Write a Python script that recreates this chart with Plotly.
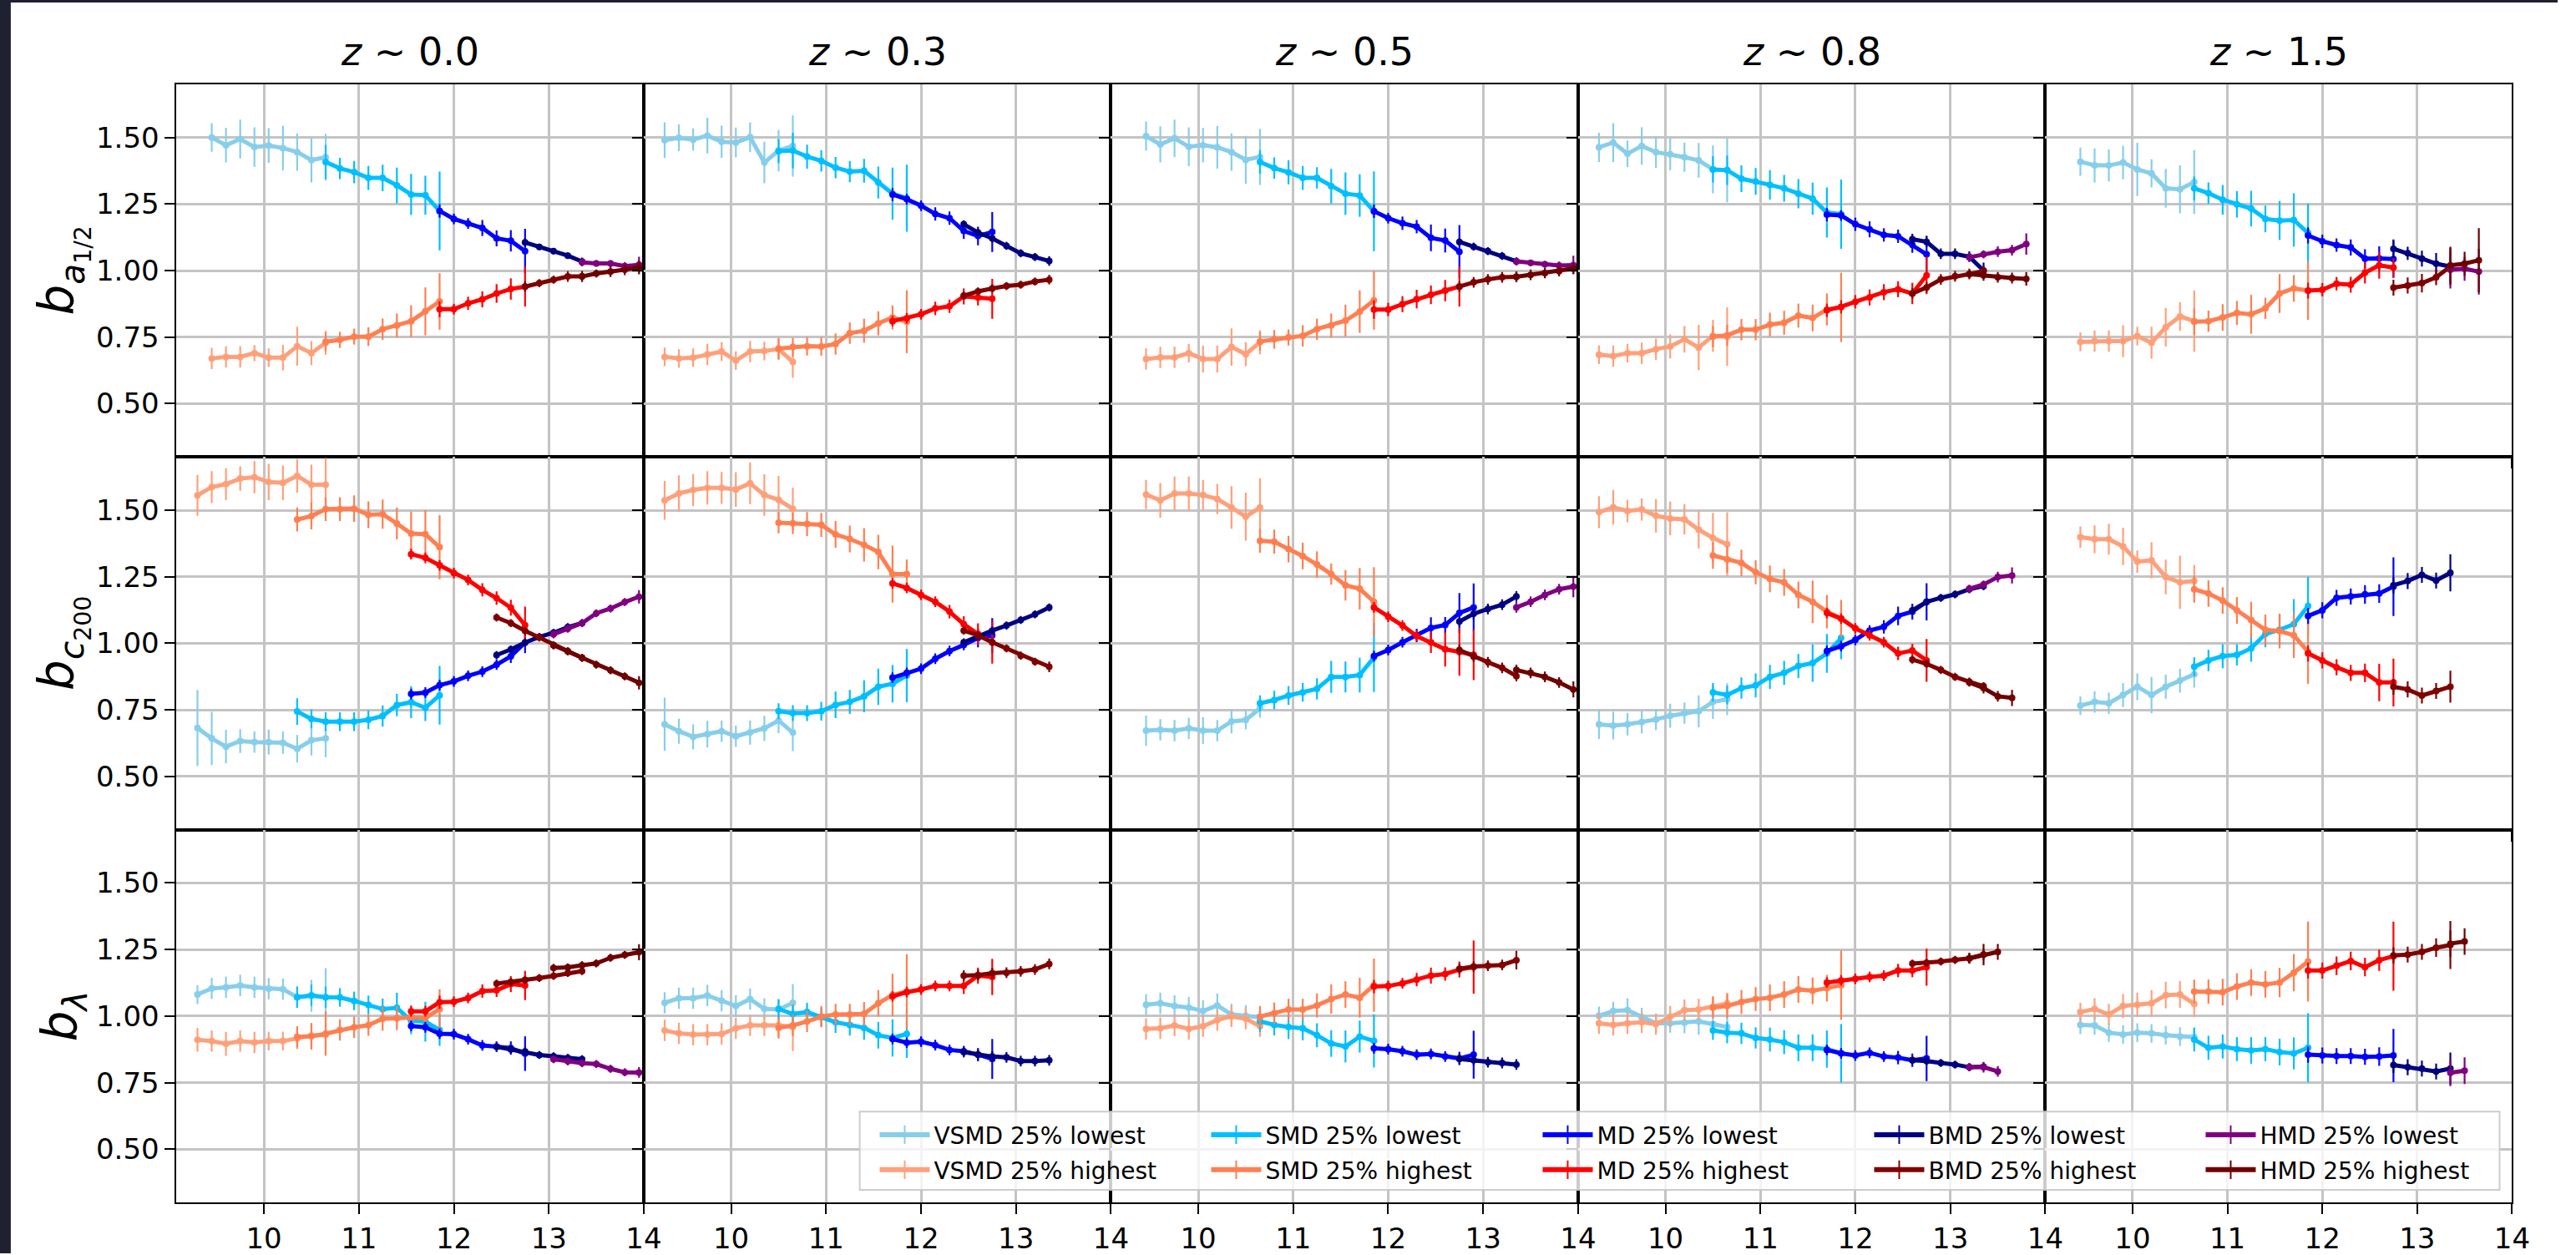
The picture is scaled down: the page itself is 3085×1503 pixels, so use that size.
import plotly.graph_objects as go

W, H = 3085, 1503

# Halo-mass bin centres, log10(M / Msun)
MASS_BINS = [9.30, 9.45, 9.60, 9.75, 9.90, 10.05, 10.20, 10.35, 10.50, 10.65,
             10.80, 10.95, 11.10, 11.25, 11.40, 11.55, 11.70, 11.85, 12.00, 12.15,
             12.30, 12.45, 12.60, 12.75, 12.90, 13.05, 13.20, 13.35, 13.50, 13.65,
             13.80, 13.95]

REDSHIFTS = ["0.0", "0.3", "0.5", "0.8", "1.5"]
ROW_LABELS = ["<i>b</i><sub><i>a</i><sub>1/2</sub></sub>",
              "<i>b</i><sub><i>c</i><sub>200</sub></sub>",
              "<i>b</i><sub><i>λ</i></sub>"]
X_TICKS = [10, 11, 12, 13, 14]
Y_TICKS = [0.50, 0.75, 1.00, 1.25, 1.50]
Y_TICK_TEXT = ["0.50", "0.75", "1.00", "1.25", "1.50"]

SERIES = ["VSMD 25% lowest", "VSMD 25% highest", "SMD 25% lowest", "SMD 25% highest",
          "MD 25% lowest", "MD 25% highest", "BMD 25% lowest", "BMD 25% highest",
          "HMD 25% lowest", "HMD 25% highest"]
COLORS = {
    "VSMD 25% lowest": "#87ceeb", "VSMD 25% highest": "#ffa07a",
    "SMD 25% lowest": "#00bfff", "SMD 25% highest": "#ff7f50",
    "MD 25% lowest": "#0000ff", "MD 25% highest": "#ff0000",
    "BMD 25% lowest": "#000080", "BMD 25% highest": "#800000",
    "HMD 25% lowest": "#800080", "HMD 25% highest": "#6e0000",
}

# Each entry: (first mass bin, bias values, 1-sigma errors)
# ---------------- b_{a1/2} ----------------
A_Z00 = {
    "VSMD 25% lowest": (9.45, [1.500, 1.471, 1.494, 1.464, 1.470, 1.460, 1.445, 1.415, 1.426],
                        [0.054, 0.065, 0.073, 0.074, 0.065, 0.084, 0.070, 0.084, 0.088]),
    "VSMD 25% highest": (9.45, [0.670, 0.676, 0.676, 0.690, 0.673, 0.673, 0.716, 0.690, 0.729],
                         [0.040, 0.040, 0.040, 0.030, 0.035, 0.048, 0.073, 0.045, 0.045]),
    "SMD 25% lowest": (10.65, [1.408, 1.384, 1.370, 1.348, 1.348, 1.320, 1.286, 1.283, 1.224],
                       [0.064, 0.040, 0.042, 0.045, 0.050, 0.067, 0.077, 0.073, 0.148]),
    "SMD 25% highest": (10.65, [0.733, 0.740, 0.752, 0.752, 0.780, 0.794, 0.810, 0.847, 0.884],
                        [0.035, 0.030, 0.030, 0.035, 0.040, 0.045, 0.060, 0.090, 0.106]),
    "MD 25% lowest": (11.85, [1.224, 1.194, 1.177, 1.160, 1.121, 1.112, 1.073],
                      [0.025, 0.020, 0.020, 0.030, 0.030, 0.040, 0.084]),
    "MD 25% highest": (11.85, [0.855, 0.855, 0.877, 0.892, 0.914, 0.931, 0.940],
                       [0.030, 0.020, 0.025, 0.030, 0.035, 0.040, 0.075]),
    "BMD 25% lowest": (12.75, [1.106, 1.089, 1.073, 1.056, 1.034],
                       [0.015, 0.012, 0.012, 0.012, 0.015]),
    "BMD 25% highest": (12.75, [0.940, 0.953, 0.966, 0.978, 0.978],
                        [0.020, 0.015, 0.015, 0.020, 0.020]),
    "HMD 25% lowest": (13.35, [1.031, 1.027, 1.027, 1.017, 1.022],
                       [0.015, 0.012, 0.012, 0.015, 0.030]),
    "HMD 25% highest": (13.35, [0.978, 0.989, 0.996, 1.003, 1.011],
                        [0.020, 0.015, 0.020, 0.020, 0.025]),
}
A_Z03 = {
    "VSMD 25% lowest": (9.30, [1.490, 1.499, 1.492, 1.507, 1.484, 1.481, 1.501, 1.406, 1.451, 1.468],
                        [0.067, 0.050, 0.042, 0.067, 0.060, 0.056, 0.056, 0.078, 0.078, 0.115]),
    "VSMD 25% highest": (9.30, [0.676, 0.670, 0.673, 0.685, 0.696, 0.662, 0.696, 0.698, 0.705, 0.657],
                         [0.035, 0.035, 0.035, 0.040, 0.035, 0.035, 0.040, 0.035, 0.040, 0.060]),
    "SMD 25% lowest": (10.50, [1.449, 1.451, 1.428, 1.412, 1.387, 1.372, 1.375, 1.331, 1.289, 1.272],
                       [0.045, 0.067, 0.045, 0.040, 0.040, 0.040, 0.045, 0.060, 0.098, 0.126]),
    "SMD 25% highest": (10.50, [0.707, 0.713, 0.716, 0.715, 0.724, 0.765, 0.774, 0.802, 0.824, 0.808],
                        [0.040, 0.035, 0.035, 0.035, 0.040, 0.040, 0.045, 0.045, 0.045, 0.118]),
    "MD 25% lowest": (11.70, [1.286, 1.268, 1.244, 1.213, 1.197, 1.149, 1.130, 1.145],
                      [0.025, 0.020, 0.020, 0.025, 0.025, 0.030, 0.035, 0.075]),
    "MD 25% highest": (11.70, [0.810, 0.821, 0.836, 0.858, 0.866, 0.903, 0.899, 0.894],
                       [0.020, 0.020, 0.020, 0.025, 0.025, 0.030, 0.030, 0.075]),
    "BMD 25% lowest": (12.45, [1.174, 1.143, 1.121, 1.093, 1.065, 1.051, 1.036],
                       [0.015, 0.015, 0.015, 0.015, 0.015, 0.015, 0.018]),
    "BMD 25% highest": (12.45, [0.906, 0.922, 0.933, 0.942, 0.947, 0.959, 0.966],
                        [0.015, 0.015, 0.015, 0.015, 0.015, 0.015, 0.018]),
}
A_Z05 = {
    "VSMD 25% lowest": (9.45, [1.505, 1.474, 1.497, 1.465, 1.471, 1.463, 1.445, 1.416, 1.427],
                        [0.055, 0.068, 0.070, 0.073, 0.065, 0.080, 0.070, 0.090, 0.105]),
    "VSMD 25% highest": (9.45, [0.668, 0.674, 0.674, 0.690, 0.668, 0.668, 0.713, 0.686, 0.731],
                         [0.040, 0.040, 0.040, 0.035, 0.050, 0.050, 0.070, 0.045, 0.045]),
    "SMD 25% lowest": (10.65, [1.408, 1.385, 1.369, 1.348, 1.348, 1.317, 1.289, 1.282, 1.223],
                       [0.045, 0.040, 0.045, 0.045, 0.040, 0.065, 0.080, 0.080, 0.150]),
    "SMD 25% highest": (10.65, [0.734, 0.742, 0.749, 0.755, 0.780, 0.794, 0.812, 0.846, 0.888],
                        [0.035, 0.035, 0.030, 0.040, 0.040, 0.045, 0.060, 0.080, 0.110]),
    "MD 25% lowest": (11.85, [1.223, 1.197, 1.178, 1.165, 1.123, 1.113, 1.071],
                      [0.025, 0.020, 0.025, 0.025, 0.050, 0.045, 0.100]),
    "MD 25% highest": (11.85, [0.854, 0.854, 0.874, 0.893, 0.909, 0.925, 0.940],
                       [0.035, 0.025, 0.030, 0.035, 0.035, 0.040, 0.075]),
    "BMD 25% lowest": (12.75, [1.108, 1.090, 1.073, 1.055, 1.035],
                       [0.015, 0.015, 0.015, 0.015, 0.015]),
    "BMD 25% highest": (12.75, [0.940, 0.956, 0.967, 0.975, 0.977],
                        [0.020, 0.020, 0.020, 0.020, 0.020]),
    "HMD 25% lowest": (13.35, [1.035, 1.029, 1.024, 1.019, 1.021],
                       [0.015, 0.012, 0.012, 0.015, 0.035]),
    "HMD 25% highest": (13.35, [0.977, 0.984, 0.991, 0.998, 1.008],
                        [0.020, 0.020, 0.020, 0.020, 0.020]),
}
A_Z08 = {
    "VSMD 25% lowest": (9.30, [1.463, 1.481, 1.439, 1.468, 1.445, 1.437, 1.426, 1.414, 1.380, 1.377],
                        [0.055, 0.073, 0.050, 0.070, 0.060, 0.060, 0.055, 0.065, 0.090, 0.120]),
    "VSMD 25% highest": (9.30, [0.684, 0.679, 0.690, 0.690, 0.705, 0.715, 0.742, 0.711, 0.755, 0.752],
                         [0.035, 0.040, 0.035, 0.040, 0.040, 0.045, 0.050, 0.085, 0.060, 0.110]),
    "SMD 25% lowest": (10.50, [1.380, 1.377, 1.345, 1.335, 1.322, 1.309, 1.289, 1.270, 1.218, 1.212],
                       [0.050, 0.055, 0.050, 0.050, 0.055, 0.050, 0.055, 0.060, 0.094, 0.130]),
    "SMD 25% highest": (10.50, [0.752, 0.757, 0.778, 0.778, 0.797, 0.804, 0.831, 0.822, 0.854, 0.862],
                        [0.040, 0.040, 0.040, 0.040, 0.045, 0.045, 0.045, 0.050, 0.060, 0.130]),
    "MD 25% lowest": (11.70, [1.210, 1.207, 1.174, 1.155, 1.134, 1.129, 1.097, 1.061],
                      [0.025, 0.020, 0.025, 0.030, 0.025, 0.025, 0.030, 0.070]),
    "MD 25% highest": (11.70, [0.851, 0.864, 0.883, 0.899, 0.919, 0.930, 0.914, 0.982],
                       [0.025, 0.025, 0.025, 0.030, 0.030, 0.030, 0.040, 0.070]),
    "BMD 25% lowest": (12.60, [1.118, 1.108, 1.063, 1.063, 1.052, 1.000],
                       [0.020, 0.020, 0.020, 0.020, 0.020, 0.030]),
    "BMD 25% highest": (12.60, [0.914, 0.937, 0.967, 0.979, 0.987, 0.998],
                        [0.020, 0.020, 0.020, 0.020, 0.020, 0.020]),
    "HMD 25% lowest": (13.20, [1.050, 1.061, 1.071, 1.077, 1.100],
                       [0.015, 0.015, 0.020, 0.020, 0.040]),
    "HMD 25% highest": (13.20, [0.987, 0.982, 0.975, 0.972, 0.969],
                        [0.015, 0.020, 0.020, 0.020, 0.025]),
}
A_Z15 = {
    "VSMD 25% lowest": (9.45, [1.409, 1.395, 1.395, 1.406, 1.380, 1.365, 1.309, 1.305, 1.333],
                        [0.053, 0.064, 0.060, 0.063, 0.100, 0.053, 0.073, 0.090, 0.120]),
    "VSMD 25% highest": (9.45, [0.732, 0.735, 0.735, 0.735, 0.754, 0.729, 0.787, 0.828, 0.810],
                         [0.035, 0.040, 0.040, 0.060, 0.035, 0.060, 0.072, 0.054, 0.115]),
    "SMD 25% lowest": (10.65, [1.309, 1.291, 1.266, 1.249, 1.233, 1.194, 1.188, 1.190, 1.141],
                       [0.045, 0.040, 0.056, 0.050, 0.067, 0.050, 0.073, 0.100, 0.110]),
    "SMD 25% highest": (10.65, [0.808, 0.810, 0.824, 0.841, 0.836, 0.858, 0.914, 0.933, 0.925],
                        [0.050, 0.040, 0.050, 0.045, 0.073, 0.040, 0.073, 0.050, 0.110]),
    "MD 25% lowest": (11.85, [1.132, 1.110, 1.096, 1.087, 1.045, 1.046, 1.043],
                      [0.030, 0.025, 0.025, 0.030, 0.035, 0.045, 0.070]),
    "MD 25% highest": (11.85, [0.925, 0.928, 0.951, 0.947, 0.992, 1.020, 1.011],
                       [0.030, 0.025, 0.025, 0.030, 0.040, 0.050, 0.035]),
    "BMD 25% lowest": (12.75, [1.082, 1.065, 1.045, 1.026, 1.015],
                       [0.035, 0.025, 0.030, 0.040, 0.025]),
    "BMD 25% highest": (12.75, [0.936, 0.944, 0.953, 0.975, 1.015],
                        [0.030, 0.030, 0.035, 0.030, 0.070]),
    "HMD 25% lowest": (13.35, [1.003, 1.007, 0.996], [0.070, 0.045, 0.086]),
    "HMD 25% highest": (13.35, [1.020, 1.026, 1.039], [0.070, 0.045, 0.120]),
}

# ---------------- b_{c200} ----------------
B_Z00 = {
    "VSMD 25% lowest": (9.30, [0.682, 0.643, 0.612, 0.633, 0.629, 0.629, 0.627, 0.604, 0.636, 0.643],
                        [0.143, 0.100, 0.063, 0.045, 0.040, 0.047, 0.042, 0.052, 0.057, 0.070]),
    "VSMD 25% highest": (9.30, [1.556, 1.587, 1.598, 1.619, 1.624, 1.606, 1.603, 1.629, 1.596, 1.596],
                         [0.077, 0.060, 0.060, 0.046, 0.060, 0.068, 0.065, 0.063, 0.075, 0.100]),
    "SMD 25% lowest": (10.35, [0.744, 0.716, 0.706, 0.706, 0.706, 0.713, 0.727, 0.768, 0.779, 0.758, 0.805],
                       [0.050, 0.035, 0.035, 0.035, 0.035, 0.035, 0.040, 0.042, 0.060, 0.050, 0.110]),
    "SMD 25% highest": (10.35, [1.465, 1.478, 1.504, 1.504, 1.506, 1.483, 1.485, 1.450, 1.412, 1.410, 1.361],
                        [0.045, 0.050, 0.045, 0.045, 0.050, 0.050, 0.055, 0.060, 0.083, 0.090, 0.120]),
    "MD 25% lowest": (11.55, [0.810, 0.815, 0.843, 0.857, 0.878, 0.894, 0.920, 0.951, 1.003],
                      [0.020, 0.020, 0.020, 0.020, 0.020, 0.020, 0.020, 0.025, 0.040]),
    "MD 25% highest": (11.55, [1.335, 1.321, 1.293, 1.264, 1.238, 1.201, 1.170, 1.134, 1.068],
                       [0.020, 0.020, 0.020, 0.020, 0.020, 0.025, 0.025, 0.030, 0.070]),
    "BMD 25% lowest": (12.45, [0.956, 0.977, 1.003, 1.024, 1.040, 1.061, 1.076],
                       [0.015, 0.015, 0.015, 0.015, 0.015, 0.015, 0.015]),
    "BMD 25% highest": (12.45, [1.097, 1.076, 1.047, 1.022, 0.993, 0.970, 0.946],
                        [0.015, 0.015, 0.015, 0.015, 0.015, 0.015, 0.015]),
    "HMD 25% lowest": (13.05, [1.034, 1.055, 1.076, 1.113, 1.131, 1.155, 1.175],
                       [0.015, 0.015, 0.015, 0.015, 0.015, 0.015, 0.025]),
    "HMD 25% highest": (13.05, [0.993, 0.970, 0.946, 0.920, 0.899, 0.876, 0.852],
                        [0.015, 0.015, 0.015, 0.015, 0.015, 0.015, 0.025]),
}
B_Z03 = {
    "VSMD 25% lowest": (9.30, [0.696, 0.670, 0.649, 0.659, 0.670, 0.651, 0.665, 0.681, 0.710, 0.665],
                        [0.100, 0.047, 0.047, 0.050, 0.040, 0.040, 0.045, 0.047, 0.047, 0.070]),
    "VSMD 25% highest": (9.30, [1.537, 1.563, 1.576, 1.584, 1.584, 1.578, 1.601, 1.557, 1.539, 1.505],
                         [0.073, 0.068, 0.060, 0.063, 0.060, 0.065, 0.078, 0.078, 0.090, 0.080]),
    "SMD 25% lowest": (10.50, [0.745, 0.738, 0.738, 0.745, 0.769, 0.780, 0.801, 0.837, 0.848, 0.879],
                       [0.030, 0.030, 0.030, 0.035, 0.050, 0.045, 0.060, 0.068, 0.070, 0.100]),
    "SMD 25% highest": (10.50, [1.453, 1.451, 1.448, 1.445, 1.409, 1.392, 1.370, 1.343, 1.260, 1.260],
                        [0.040, 0.040, 0.045, 0.045, 0.050, 0.050, 0.063, 0.065, 0.107, 0.055]),
    "MD 25% lowest": (11.70, [0.871, 0.889, 0.905, 0.942, 0.971, 0.994, 1.020, 1.030],
                      [0.020, 0.020, 0.020, 0.020, 0.020, 0.020, 0.035, 0.065]),
    "MD 25% highest": (11.70, [1.225, 1.208, 1.182, 1.156, 1.119, 1.072, 1.035, 1.004],
                       [0.020, 0.020, 0.020, 0.020, 0.025, 0.030, 0.040, 0.080]),
    "BMD 25% lowest": (12.45, [1.004, 1.027, 1.048, 1.067, 1.088, 1.109, 1.135],
                       [0.015, 0.015, 0.015, 0.015, 0.015, 0.015, 0.015]),
    "BMD 25% highest": (12.45, [1.048, 1.030, 1.004, 0.981, 0.954, 0.931, 0.912],
                        [0.015, 0.015, 0.015, 0.015, 0.015, 0.015, 0.020]),
}
B_Z05 = {
    "VSMD 25% lowest": (9.45, [0.672, 0.675, 0.672, 0.681, 0.672, 0.672, 0.707, 0.712, 0.756],
                        [0.057, 0.040, 0.040, 0.040, 0.050, 0.040, 0.045, 0.035, 0.035]),
    "VSMD 25% highest": (9.45, [1.559, 1.537, 1.563, 1.563, 1.557, 1.542, 1.510, 1.476, 1.510],
                         [0.055, 0.065, 0.063, 0.063, 0.057, 0.057, 0.080, 0.090, 0.110]),
    "SMD 25% lowest": (10.65, [0.775, 0.787, 0.804, 0.816, 0.829, 0.874, 0.874, 0.881, 0.947],
                       [0.030, 0.035, 0.035, 0.035, 0.040, 0.060, 0.058, 0.065, 0.130]),
    "SMD 25% highest": (10.65, [1.385, 1.382, 1.354, 1.328, 1.296, 1.260, 1.218, 1.205, 1.156],
                        [0.045, 0.045, 0.050, 0.050, 0.050, 0.040, 0.057, 0.078, 0.130]),
    "MD 25% lowest": (11.85, [0.952, 0.975, 1.004, 1.030, 1.058, 1.069, 1.114, 1.135],
                      [0.020, 0.020, 0.020, 0.025, 0.040, 0.030, 0.075, 0.090]),
    "MD 25% highest": (11.85, [1.135, 1.100, 1.067, 1.027, 1.004, 0.978, 0.968, 0.957],
                       [0.020, 0.020, 0.020, 0.020, 0.040, 0.065, 0.090, 0.095]),
    "BMD 25% lowest": (12.75, [1.082, 1.111, 1.129, 1.145, 1.176],
                       [0.020, 0.020, 0.020, 0.020, 0.020]),
    "BMD 25% highest": (12.75, [0.975, 0.950, 0.929, 0.908, 0.877],
                        [0.020, 0.020, 0.020, 0.020, 0.020]),
    "HMD 25% lowest": (13.35, [1.135, 1.156, 1.182, 1.203, 1.213],
                       [0.020, 0.020, 0.020, 0.020, 0.040]),
    "HMD 25% highest": (13.35, [0.900, 0.889, 0.874, 0.853, 0.827],
                        [0.020, 0.020, 0.020, 0.020, 0.030]),
}
B_Z08 = {
    "VSMD 25% lowest": (9.30, [0.696, 0.691, 0.696, 0.704, 0.714, 0.728, 0.738, 0.745, 0.780, 0.790],
                        [0.055, 0.052, 0.042, 0.042, 0.040, 0.045, 0.040, 0.060, 0.063, 0.060]),
    "VSMD 25% highest": (9.30, [1.493, 1.511, 1.497, 1.503, 1.479, 1.469, 1.466, 1.427, 1.396, 1.372],
                         [0.060, 0.065, 0.042, 0.042, 0.063, 0.063, 0.057, 0.070, 0.094, 0.120]),
    "SMD 25% lowest": (10.50, [0.816, 0.806, 0.832, 0.842, 0.874, 0.889, 0.915, 0.926, 0.962, 1.020],
                       [0.035, 0.035, 0.040, 0.045, 0.045, 0.045, 0.045, 0.070, 0.073, 0.080]),
    "SMD 25% highest": (10.50, [1.330, 1.315, 1.302, 1.267, 1.242, 1.229, 1.182, 1.156, 1.119, 1.093],
                        [0.050, 0.050, 0.050, 0.045, 0.050, 0.050, 0.050, 0.080, 0.063, 0.070]),
    "MD 25% lowest": (11.70, [0.971, 0.989, 1.013, 1.048, 1.062, 1.103, 1.119, 1.156],
                      [0.020, 0.020, 0.020, 0.020, 0.025, 0.035, 0.030, 0.070]),
    "MD 25% highest": (11.70, [1.114, 1.093, 1.056, 1.030, 1.004, 0.962, 0.973, 0.936],
                       [0.020, 0.020, 0.020, 0.020, 0.020, 0.025, 0.025, 0.080]),
    "BMD 25% lowest": (12.60, [1.124, 1.156, 1.171, 1.184, 1.203, 1.215],
                       [0.015, 0.015, 0.015, 0.015, 0.015, 0.015]),
    "BMD 25% highest": (12.60, [0.939, 0.923, 0.900, 0.874, 0.856, 0.839],
                        [0.015, 0.015, 0.015, 0.015, 0.015, 0.015]),
    "HMD 25% lowest": (13.20, [1.205, 1.221, 1.249, 1.255], [0.015, 0.015, 0.020, 0.030]),
    "HMD 25% highest": (13.20, [0.853, 0.832, 0.801, 0.795], [0.015, 0.020, 0.020, 0.030]),
}
B_Z15 = {
    "VSMD 25% lowest": (9.45, [0.766, 0.780, 0.775, 0.806, 0.837, 0.806, 0.837, 0.860, 0.884],
                        [0.035, 0.040, 0.040, 0.045, 0.050, 0.068, 0.045, 0.045, 0.050]),
    "VSMD 25% highest": (9.45, [1.399, 1.391, 1.391, 1.364, 1.307, 1.312, 1.249, 1.229, 1.234],
                         [0.040, 0.052, 0.058, 0.070, 0.042, 0.068, 0.065, 0.100, 0.060]),
    "SMD 25% lowest": (10.65, [0.912, 0.936, 0.952, 0.957, 0.981, 1.035, 1.051, 1.072, 1.140],
                       [0.035, 0.040, 0.045, 0.040, 0.050, 0.050, 0.057, 0.094, 0.110]),
    "SMD 25% highest": (10.65, [1.203, 1.187, 1.161, 1.124, 1.088, 1.051, 1.046, 1.030, 0.968],
                        [0.050, 0.050, 0.050, 0.050, 0.068, 0.057, 0.065, 0.085, 0.120]),
    "MD 25% lowest": (11.85, [1.103, 1.124, 1.171, 1.176, 1.184, 1.187, 1.213],
                      [0.030, 0.030, 0.030, 0.030, 0.035, 0.035, 0.110]),
    "MD 25% highest": (11.85, [0.962, 0.936, 0.910, 0.889, 0.889, 0.853, 0.853],
                       [0.030, 0.030, 0.030, 0.030, 0.035, 0.070, 0.090]),
    "BMD 25% lowest": (12.75, [1.218, 1.234, 1.257, 1.236, 1.265],
                       [0.030, 0.030, 0.030, 0.030, 0.070]),
    "BMD 25% highest": (12.75, [0.837, 0.827, 0.804, 0.821, 0.837],
                        [0.030, 0.030, 0.030, 0.030, 0.060]),
}

# ---------------- b_lambda ----------------
C_Z00 = {
    "VSMD 25% lowest": (9.30, [1.081, 1.104, 1.108, 1.115, 1.108, 1.103, 1.101, 1.071, 1.076, 1.070],
                        [0.035, 0.040, 0.040, 0.040, 0.040, 0.040, 0.040, 0.040, 0.060, 0.110]),
    "VSMD 25% highest": (9.30, [0.911, 0.906, 0.896, 0.906, 0.901, 0.906, 0.906, 0.916, 0.927, 0.930],
                         [0.045, 0.040, 0.045, 0.040, 0.040, 0.035, 0.035, 0.040, 0.045, 0.045]),
    "SMD 25% lowest": (10.35, [1.071, 1.078, 1.071, 1.070, 1.057, 1.042, 1.026, 1.031, 0.982, 0.979, 0.948],
                       [0.040, 0.040, 0.040, 0.035, 0.035, 0.035, 0.040, 0.057, 0.050, 0.075, 0.060]),
    "SMD 25% highest": (10.35, [0.922, 0.924, 0.934, 0.948, 0.958, 0.966, 0.990, 0.992, 0.995, 0.993, 1.026],
                        [0.040, 0.050, 0.083, 0.040, 0.040, 0.040, 0.045, 0.045, 0.045, 0.045, 0.075]),
    "MD 25% lowest": (11.55, [0.963, 0.958, 0.934, 0.932, 0.913, 0.890, 0.885, 0.880, 0.859],
                      [0.020, 0.020, 0.020, 0.020, 0.020, 0.020, 0.020, 0.025, 0.065]),
    "MD 25% highest": (11.55, [1.018, 1.018, 1.052, 1.054, 1.068, 1.094, 1.097, 1.120, 1.115],
                       [0.020, 0.020, 0.025, 0.020, 0.020, 0.025, 0.025, 0.030, 0.055]),
    "BMD 25% lowest": (12.45, [0.885, 0.875, 0.867, 0.854, 0.849, 0.843, 0.838],
                       [0.015, 0.015, 0.015, 0.015, 0.015, 0.015, 0.015]),
    "BMD 25% highest": (12.45, [1.122, 1.128, 1.136, 1.143, 1.151, 1.162, 1.169],
                        [0.015, 0.015, 0.015, 0.015, 0.015, 0.015, 0.015]),
    "HMD 25% lowest": (13.05, [0.838, 0.830, 0.823, 0.820, 0.802, 0.789, 0.788],
                       [0.015, 0.015, 0.015, 0.015, 0.015, 0.015, 0.020]),
    "HMD 25% highest": (13.05, [1.181, 1.183, 1.191, 1.198, 1.219, 1.230, 1.240],
                        [0.015, 0.015, 0.015, 0.015, 0.015, 0.015, 0.030]),
}
C_Z03 = {
    "VSMD 25% lowest": (9.30, [1.050, 1.067, 1.067, 1.077, 1.058, 1.038, 1.064, 1.027, 1.025, 1.050],
                        [0.040, 0.040, 0.040, 0.040, 0.040, 0.040, 0.040, 0.040, 0.040, 0.070]),
    "VSMD 25% highest": (9.30, [0.946, 0.935, 0.931, 0.931, 0.933, 0.954, 0.965, 0.965, 0.965, 0.959],
                         [0.040, 0.040, 0.040, 0.040, 0.040, 0.040, 0.040, 0.040, 0.040, 0.090]),
    "SMD 25% lowest": (10.50, [1.027, 1.008, 1.015, 0.996, 0.977, 0.967, 0.956, 0.928, 0.918, 0.933],
                       [0.035, 0.035, 0.035, 0.035, 0.040, 0.040, 0.045, 0.050, 0.070, 0.090]),
    "SMD 25% highest": (10.50, [0.956, 0.965, 0.980, 0.998, 1.006, 1.006, 1.008, 1.048, 1.079, 1.092],
                        [0.040, 0.040, 0.040, 0.040, 0.040, 0.040, 0.045, 0.050, 0.080, 0.140]),
    "MD 25% lowest": (11.70, [0.914, 0.900, 0.904, 0.891, 0.873, 0.868, 0.855, 0.839],
                      [0.020, 0.020, 0.020, 0.020, 0.020, 0.020, 0.025, 0.075]),
    "MD 25% highest": (11.70, [1.074, 1.090, 1.100, 1.113, 1.113, 1.113, 1.152, 1.147],
                       [0.020, 0.020, 0.020, 0.020, 0.020, 0.030, 0.030, 0.068]),
    "BMD 25% lowest": (12.45, [0.865, 0.855, 0.848, 0.845, 0.831, 0.831, 0.834],
                       [0.020, 0.020, 0.020, 0.020, 0.020, 0.020, 0.020]),
    "BMD 25% highest": (12.45, [1.152, 1.154, 1.161, 1.163, 1.168, 1.175, 1.196],
                        [0.020, 0.020, 0.020, 0.020, 0.020, 0.020, 0.020]),
}
C_Z05 = {
    "VSMD 25% lowest": (9.45, [1.043, 1.048, 1.038, 1.032, 1.019, 1.040, 1.006, 1.001, 0.996],
                        [0.040, 0.040, 0.040, 0.040, 0.040, 0.045, 0.040, 0.040, 0.040]),
    "VSMD 25% highest": (9.45, [0.952, 0.954, 0.965, 0.952, 0.962, 0.985, 0.999, 0.990, 0.962],
                         [0.040, 0.040, 0.040, 0.040, 0.040, 0.040, 0.040, 0.040, 0.040]),
    "SMD 25% lowest": (10.65, [0.980, 0.967, 0.959, 0.954, 0.928, 0.897, 0.886, 0.923, 0.907],
                       [0.040, 0.040, 0.045, 0.045, 0.045, 0.050, 0.060, 0.060, 0.100]),
    "SMD 25% highest": (10.65, [0.998, 1.011, 1.025, 1.025, 1.040, 1.064, 1.081, 1.069, 1.116],
                        [0.040, 0.040, 0.040, 0.040, 0.045, 0.055, 0.050, 0.075, 0.100]),
    "MD 25% lowest": (11.85, [0.879, 0.876, 0.868, 0.855, 0.858, 0.848, 0.841, 0.855],
                      [0.020, 0.020, 0.020, 0.020, 0.020, 0.020, 0.025, 0.090]),
    "MD 25% highest": (11.85, [1.111, 1.113, 1.123, 1.137, 1.152, 1.158, 1.175, 1.184],
                       [0.025, 0.020, 0.020, 0.025, 0.030, 0.025, 0.030, 0.100]),
    "BMD 25% lowest": (12.75, [0.839, 0.834, 0.827, 0.824, 0.818],
                       [0.020, 0.020, 0.020, 0.020, 0.020]),
    "BMD 25% highest": (12.75, [1.178, 1.186, 1.189, 1.192, 1.210],
                        [0.020, 0.020, 0.020, 0.020, 0.035]),
}
C_Z08 = {
    "VSMD 25% lowest": (9.30, [1.001, 1.019, 1.022, 0.996, 0.973, 0.973, 0.975, 0.980, 0.970, 0.959],
                        [0.035, 0.035, 0.045, 0.035, 0.035, 0.035, 0.040, 0.050, 0.040, 0.040]),
    "VSMD 25% highest": (9.30, [0.973, 0.967, 0.973, 0.977, 0.970, 0.998, 1.022, 1.025, 1.035, 1.048],
                         [0.040, 0.040, 0.040, 0.040, 0.040, 0.040, 0.040, 0.040, 0.040, 0.040]),
    "SMD 25% lowest": (10.50, [0.946, 0.938, 0.935, 0.918, 0.912, 0.902, 0.881, 0.881, 0.876, 0.860],
                       [0.035, 0.040, 0.040, 0.040, 0.045, 0.045, 0.050, 0.050, 0.070, 0.110]),
    "SMD 25% highest": (10.50, [1.032, 1.038, 1.053, 1.064, 1.069, 1.081, 1.100, 1.095, 1.105, 1.116],
                        [0.040, 0.045, 0.045, 0.045, 0.050, 0.050, 0.050, 0.050, 0.050, 0.130]),
    "MD 25% lowest": (11.70, [0.873, 0.860, 0.852, 0.862, 0.848, 0.844, 0.834, 0.841],
                      [0.020, 0.020, 0.020, 0.020, 0.020, 0.025, 0.025, 0.085]),
    "MD 25% highest": (11.70, [1.126, 1.134, 1.140, 1.147, 1.152, 1.171, 1.171, 1.184],
                       [0.020, 0.020, 0.020, 0.020, 0.020, 0.025, 0.025, 0.070]),
    "BMD 25% lowest": (12.60, [0.834, 0.831, 0.824, 0.818, 0.808, 0.810],
                       [0.015, 0.015, 0.015, 0.015, 0.015, 0.015]),
    "BMD 25% highest": (12.60, [1.197, 1.200, 1.205, 1.211, 1.217, 1.231],
                        [0.015, 0.015, 0.015, 0.015, 0.020, 0.020]),
    "HMD 25% lowest": (13.20, [0.808, 0.808, 0.792], [0.015, 0.020, 0.020]),
    "HMD 25% highest": (13.20, [1.217, 1.231, 1.241], [0.020, 0.040, 0.030]),
}
C_Z15 = {
    "VSMD 25% lowest": (9.45, [0.967, 0.965, 0.938, 0.931, 0.938, 0.935, 0.928, 0.923, 0.921],
                        [0.035, 0.035, 0.035, 0.035, 0.035, 0.035, 0.035, 0.035, 0.035]),
    "VSMD 25% highest": (9.45, [1.015, 1.027, 1.006, 1.038, 1.043, 1.048, 1.079, 1.081, 1.046],
                         [0.035, 0.040, 0.040, 0.045, 0.045, 0.050, 0.050, 0.050, 0.050]),
    "SMD 25% lowest": (10.65, [0.912, 0.881, 0.886, 0.876, 0.871, 0.876, 0.865, 0.860, 0.881],
                       [0.045, 0.045, 0.045, 0.045, 0.050, 0.045, 0.050, 0.060, 0.130]),
    "SMD 25% highest": (10.65, [1.092, 1.092, 1.090, 1.111, 1.126, 1.119, 1.126, 1.163, 1.205],
                        [0.045, 0.045, 0.050, 0.050, 0.050, 0.050, 0.055, 0.070, 0.150]),
    "MD 25% lowest": (11.85, [0.855, 0.852, 0.850, 0.850, 0.847, 0.848, 0.852],
                      [0.030, 0.030, 0.030, 0.030, 0.030, 0.035, 0.100]),
    "MD 25% highest": (11.85, [1.171, 1.171, 1.189, 1.207, 1.184, 1.210, 1.225],
                       [0.030, 0.030, 0.035, 0.035, 0.035, 0.040, 0.130]),
    "BMD 25% lowest": (12.75, [0.816, 0.808, 0.803, 0.792, 0.803],
                       [0.030, 0.030, 0.030, 0.030, 0.060]),
    "BMD 25% highest": (12.75, [1.228, 1.231, 1.241, 1.257, 1.267],
                        [0.030, 0.030, 0.030, 0.035, 0.090]),
    "HMD 25% lowest": (13.35, [0.787, 0.795], [0.050, 0.050]),
    "HMD 25% highest": (13.35, [1.272, 1.280], [0.050, 0.050]),
}

PANELS = [
    [A_Z00, A_Z03, A_Z05, A_Z08, A_Z15],
    [B_Z00, B_Z03, B_Z05, B_Z08, B_Z15],
    [C_Z00, C_Z03, C_Z05, C_Z08, C_Z15],
]

# ---- panel geometry (pixels) ----
COL_EDGES = [213, 776.5, 1340, 1903.5, 2467, 3030]
ROW_EDGES = [101, 548, 995, 1442]
X_RANGE = [9.08, 14.0]
Y_RANGE = [0.30, 1.70]

FONT = "DejaVu Sans"
GRID = "#c4c4c4"

fig = go.Figure()
layout_axes = {}

for r in range(3):
    for c in range(5):
        k = r * 5 + c + 1
        xname = "x" if k == 1 else f"x{k}"
        yname = "y" if k == 1 else f"y{k}"
        panel = PANELS[r][c]
        for name in SERIES:
            if name not in panel:
                continue
            start, vals, errs = panel[name]
            i0 = MASS_BINS.index(start)
            xs = MASS_BINS[i0:i0 + len(vals)]
            col = COLORS[name]
            fig.add_trace(go.Scatter(
                x=xs, y=vals, mode="lines+markers", xaxis=xname, yaxis=yname,
                line=dict(color=col, width=5), marker=dict(color=col, size=8),
                error_y=dict(type="data", array=errs, color=col, thickness=2.2, width=0),
                showlegend=False, hoverinfo="skip"))

        x0, x1 = COL_EDGES[c] / W, COL_EDGES[c + 1] / W
        y0, y1 = 1 - ROW_EDGES[r + 1] / H, 1 - ROW_EDGES[r] / H
        common = dict(showgrid=True, gridcolor=GRID, gridwidth=2.5, zeroline=False,
                      showline=True, linecolor="black", linewidth=2, mirror=True,
                      ticks="outside", ticklen=12, tickwidth=2, tickcolor="black",
                      tickfont=dict(family=FONT, size=34, color="black"))
        layout_axes["xaxis" if k == 1 else f"xaxis{k}"] = dict(
            domain=[x0, x1], anchor=yname, range=X_RANGE,
            tickvals=X_TICKS, ticktext=[str(t) for t in X_TICKS],
            showticklabels=(r == 2), **common)
        layout_axes["yaxis" if k == 1 else f"yaxis{k}"] = dict(
            domain=[y0, y1], anchor=xname, range=Y_RANGE,
            tickvals=Y_TICKS, ticktext=Y_TICK_TEXT,
            showticklabels=(c == 0), **common)

# legend entries: errorbar-style handles, one row per legend
for name in SERIES:
    col = COLORS[name]
    fig.add_trace(go.Scatter(
        x=[None], y=[None], mode="lines+markers", name=name,
        line=dict(color=col, width=6),
        marker=dict(symbol="line-ns", size=40, color=col, line=dict(color=col, width=2)),
        legend="legend" if "lowest" in name else "legend2", showlegend=True))

annotations = []
for c, z in enumerate(REDSHIFTS):
    annotations.append(dict(
        x=(COL_EDGES[c] + COL_EDGES[c + 1]) / 2 / W, y=1 - 62 / H, xref="paper", yref="paper",
        text=f"<i>z</i> ∼ {z}", showarrow=False, xanchor="center", yanchor="middle",
        font=dict(family=FONT, size=46, color="black")))
for r, lab in enumerate(ROW_LABELS):
    annotations.append(dict(
        x=76 / W, y=1 - (ROW_EDGES[r] + ROW_EDGES[r + 1]) / 2 / H, xref="paper", yref="paper",
        text=lab, showarrow=False, textangle=-90, xanchor="center", yanchor="middle",
        font=dict(family=FONT, size=58, color="black")))

shapes = [
    # legend frame
    dict(type="rect", xref="paper", yref="paper", x0=1037 / W, x1=3015 / W,
         y0=1 - 1427 / H, y1=1 - 1333 / H, fillcolor="rgba(255,255,255,0.8)",
         line=dict(color="rgba(200,200,200,0.9)", width=2), layer="above"),
    # dark window frame
    dict(type="rect", xref="paper", yref="paper", x0=0, x1=13 / W, y0=0, y1=1,
         fillcolor="#1f2030", line=dict(width=0), layer="below"),
    dict(type="rect", xref="paper", yref="paper", x0=0, x1=1, y0=1 - 3 / H, y1=1,
         fillcolor="#1f2030", line=dict(width=0), layer="below"),
]

legend_common = dict(orientation="h", xanchor="left", yanchor="top",
                     bgcolor="rgba(0,0,0,0)", borderwidth=0,
                     font=dict(family=FONT, size=28, color="black"),
                     entrywidth=322, entrywidthmode="pixels", itemwidth=60)

fig.update_layout(
    width=W, height=H, margin=dict(l=0, r=0, t=0, b=0),
    paper_bgcolor="white", plot_bgcolor="white",
    font=dict(family=FONT, color="black"),
    annotations=annotations, shapes=shapes,
    legend=dict(x=1056 / W, y=1 - 1336 / H, **legend_common),
    legend2=dict(x=1056 / W, y=1 - 1378 / H, **legend_common),
    **layout_axes,
)

fig.write_html("out.html")
